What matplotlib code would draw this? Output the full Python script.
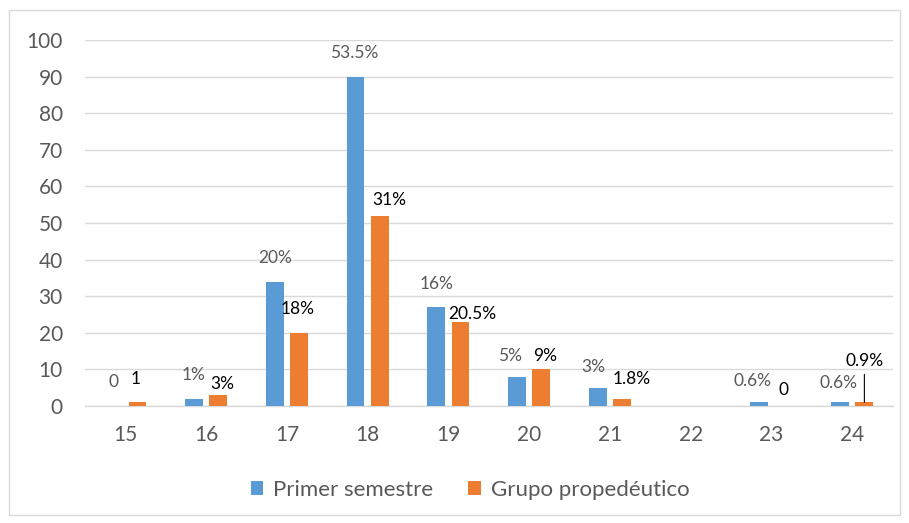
import matplotlib.pyplot as plt
import matplotlib.patches as patches
import numpy as np

plt.rcParams['font.family'] = ['Lato', 'DejaVu Sans']

# data
edades = ['15', '16', '17', '18', '19', '20', '21', '22', '23', '24']
primer = [0, 2, 34, 90, 27, 8, 5, 0, 1, 1]
grupo = [1, 3, 20, 52, 23, 10, 2, 0, 0, 1]
etiq_primer = ['0', '1%', '20%', '53.5%', '16%', '5%', '3%', '', '0.6%', '0.6%']
etiq_grupo = ['1', '3%', '18%', '31%', '20.5%', '9%', '1.8%', '', '0', '0.9%']

# label offsets (pixels), roughly as placed in the original
off_primer = [(0, 24), (0, 24), (0, 24), (-1, 24), (0, 23), (-7, 21), (-5, 21), (0, 0), (-7, 21), (-2, 19)]
off_grupo = [(-2, 23), (4, 11), (-1, 24), (10, 16), (12, 8), (4, 13), (10, 20), (0, 0), (0, 16), (0, 41)]

azul = '#5B9BD5'
naranja = '#ED7D31'
gris = '#595959'

fig = plt.figure(figsize=(9.09, 5.23), dpi=100)
ax = fig.add_axes([0.0935, 0.2237, 0.8885, 0.6998])

x = np.arange(len(edades))
w = 0.22
ax.bar(x - 0.15, primer, w, color=azul, label='Primer semestre', zorder=3)
ax.bar(x + 0.15, grupo, w, color=naranja, label='Grupo propedéutico', zorder=3)

for i in range(len(edades)):
    if etiq_primer[i]:
        ax.annotate(etiq_primer[i], (x[i] - 0.15, primer[i]), xytext=off_primer[i],
                    textcoords='offset pixels', ha='center', va='center',
                    fontsize=12.5, color=gris)
    if etiq_grupo[i]:
        ax.annotate(etiq_grupo[i], (x[i] + 0.15, grupo[i]), xytext=off_grupo[i],
                    textcoords='offset pixels', ha='center', va='center',
                    fontsize=12.5, color='black')

# leader line for the last label
ax.annotate('', (x[-1] + 0.15, grupo[-1]), xytext=(0, 28), textcoords='offset pixels',
            arrowprops=dict(arrowstyle='-', color='black', lw=0.8, shrinkA=0, shrinkB=0))

ax.set_xlim(-0.5, len(edades) - 0.5)
ax.set_ylim(0, 100)
ax.set_yticks(range(0, 101, 10))
ax.set_xticks(x)
ax.set_xticklabels(edades)
ax.tick_params(axis='both', length=0, labelsize=15, labelcolor=gris)
ax.tick_params(axis='y', pad=16)
ax.tick_params(axis='x', pad=14)
ax.yaxis.grid(True, color='#d9d9d9', lw=1, zorder=0)
for s in ['top', 'right', 'left']:
    ax.spines[s].set_visible(False)
ax.spines['bottom'].set_color('#d9d9d9')
ax.spines['bottom'].set_linewidth(1)

leg = fig.legend(loc='center', bbox_to_anchor=(0.517, 0.063), ncol=2, frameon=False,
                 fontsize=16, handlelength=0.55, handleheight=0.55, columnspacing=1.6,
                 handletextpad=0.45)
for t in leg.get_texts():
    t.set_color(gris)

fig.patches.append(patches.Rectangle((9 / 909, 8 / 523), 891 / 909, 505 / 523,
                                     transform=fig.transFigure, fill=False,
                                     edgecolor='#d9d9d9', lw=1))

plt.savefig('out.png', dpi=100)
